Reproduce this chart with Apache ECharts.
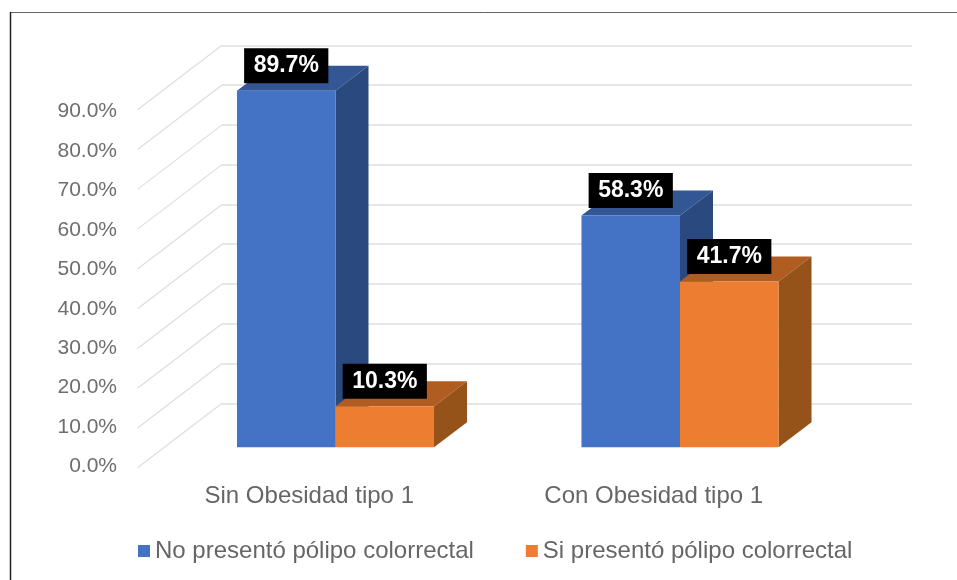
<!DOCTYPE html>
<html>
<head>
<meta charset="utf-8">
<style>html,body{margin:0;padding:0;background:#fff}#chart{width:957px;height:580px}</style>
<script src="https://cdn.jsdelivr.net/npm/echarts@6/dist/echarts.min.js"></script>
</head>
<body>
<div id="chart"></div>
<script>
// Share of patients with and without colorectal polyps, by obesity group (percent)
const categories = ['Sin Obesidad tipo 1', 'Con Obesidad tipo 1'];
const noPolipo = [89.7, 58.3];
const siPolipo = [10.3, 41.7];
const axisTicks = [0, 10, 20, 30, 40, 50, 60, 70, 80, 90];
const seriesNames = ['No presentó pólipo colorrectal', 'Si presentó pólipo colorrectal'];

const FONT = '"Liberation Sans", Arial, sans-serif';
const DEPTH_X = 33, DEPTH_Y = 25;      // extrusion of each bar
const WALL_X = 84.5, WALL_Y = 64.5;    // floor depth in front of the back wall
const BAR_RATIO = 0.286;               // bar width as a share of the category band

// Extruded bar: front face, top face, side face and its value tag
function bar3d(side, front, top, right) {
  return function (params, api) {
    const value = api.value(1);
    const base = api.coord([api.value(0), 0]);
    const head = api.coord([api.value(0), value]);
    const w = api.size([1, 0])[0] * BAR_RATIO;
    const x0 = side < 0 ? base[0] - w : base[0];
    const x1 = x0 + w;
    return {
      type: 'group',
      children: [
        { type: 'polygon', shape: { points: [[x0, head[1]], [x1, head[1]], [x1 + DEPTH_X, head[1] - DEPTH_Y], [x0 + DEPTH_X, head[1] - DEPTH_Y]] }, style: { fill: top } },
        { type: 'polygon', shape: { points: [[x1, head[1]], [x1 + DEPTH_X, head[1] - DEPTH_Y], [x1 + DEPTH_X, base[1] - DEPTH_Y], [x1, base[1]]] }, style: { fill: right } },
        { type: 'rect', shape: { x: x0, y: head[1], width: w, height: base[1] - head[1] }, style: { fill: front } },
        {
          type: 'text', z2: 10,
          style: {
            x: (x0 + x1) / 2, y: head[1] - 25,
            text: value.toFixed(1) + '%',
            align: 'center', verticalAlign: 'middle',
            fill: '#fff', font: 'bold 23px ' + FONT,
            backgroundColor: '#000', padding: [6, 9.5, 6, 9.5]
          }
        }
      ]
    };
  };
}

const chart = echarts.init(document.getElementById('chart'), null, { renderer: 'canvas' });
chart.setOption({
  animation: false,
  backgroundColor: '#fff',
  graphic: [
    { type: 'line', silent: true, shape: { x1: 10, y1: 12.5, x2: 957, y2: 12.5 }, style: { stroke: '#666', lineWidth: 1 } },
    { type: 'line', silent: true, shape: { x1: 10.5, y1: 12, x2: 10.5, y2: 580 }, style: { stroke: '#222', lineWidth: 1.5 } }
  ],
  legend: {
    left: 133, top: 534,
    icon: 'rect', itemWidth: 12, itemHeight: 12, itemGap: 52,
    textStyle: { color: '#666', fontSize: 24, fontFamily: FONT },
    data: seriesNames
  },
  grid: [
    { left: 137, width: 689, top: 111.5, height: 355 },      // floor edge: tick and category labels
    { left: 163.25, width: 689, top: 89.55, height: 357.75 }, // plane of the bars
    { left: 222, width: 690, top: 45.3, height: 358 }      // back wall
  ],
  xAxis: [0, 1, 2].map(i => ({
    type: 'category', gridIndex: i, data: categories,
    axisLine: { show: false }, axisTick: { show: false }, splitLine: { show: false },
    axisLabel: i === 0
      ? { show: true, margin: 18, color: '#666', fontSize: 24, fontFamily: FONT }
      : { show: false }
  })),
  yAxis: [0, 1, 2].map(i => ({
    type: 'value', gridIndex: i, min: 0, max: 90, interval: 10,
    axisLine: { show: false }, axisTick: { show: false },
    splitLine: i === 2 ? { show: true, lineStyle: { color: '#dedede', width: 1.5 } } : { show: false },
    axisLabel: i === 0
      ? { show: true, margin: 20, color: '#6e6e6e', fontSize: 21, fontFamily: FONT, formatter: v => v.toFixed(1) + '%' }
      : { show: false }
  })),
  series: [
    {
      type: 'custom', name: 'pared', xAxisIndex: 2, yAxisIndex: 2, silent: true, z: 1,
      data: axisTicks.map(t => [0, t]),
      renderItem(params, api) {
        const p = api.coord([0, api.value(1)]);
        const x = p[0] - api.size([1, 0])[0] / 2;
        return {
          type: 'line',
          shape: { x1: x, y1: p[1], x2: x - WALL_X, y2: p[1] + WALL_Y },
          style: { stroke: '#dedede', lineWidth: 1.2 }
        };
      }
    },
    {
      type: 'custom', name: seriesNames[0], xAxisIndex: 1, yAxisIndex: 1, z: 3,
      itemStyle: { color: '#4472c4' },
      data: noPolipo.map((v, i) => [i, v]),
      renderItem: bar3d(-1, '#4472c4', '#335695', '#2a4a7f')
    },
    {
      type: 'custom', name: seriesNames[1], xAxisIndex: 1, yAxisIndex: 1, z: 4,
      itemStyle: { color: '#ed7d31' },
      data: siPolipo.map((v, i) => [i, v]),
      renderItem: bar3d(1, '#ed7d31', '#b15d22', '#955219')
    }
  ]
});
</script>
</body>
</html>
